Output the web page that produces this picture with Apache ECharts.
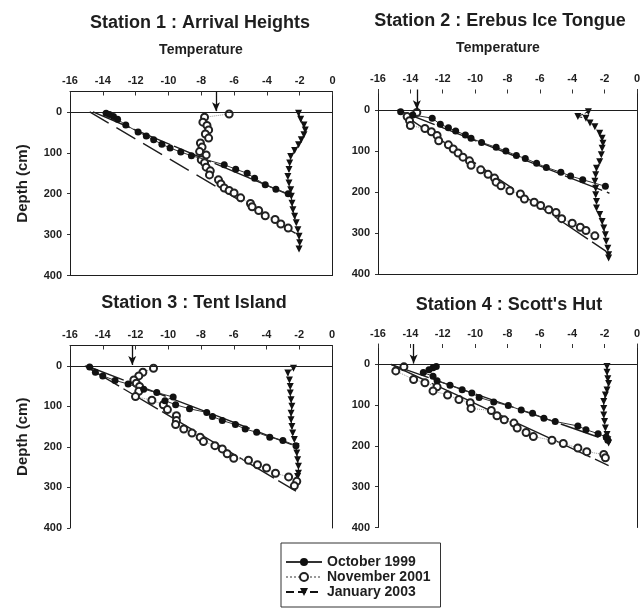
<!DOCTYPE html>
<html><head><meta charset="utf-8">
<script src="https://cdn.jsdelivr.net/npm/echarts@6/dist/echarts.min.js"></script>
<style>html,body{margin:0;padding:0;background:#fff}#c{width:643px;height:611px}</style>
</head><body><div id="c"></div>
<script>
// ---------- data (temperature °C, depth cm) ----------
const stationTitles = ['Station 1 : Arrival Heights', 'Station 2 : Erebus Ice Tongue', 'Station 3 : Tent Island', "Station 4 : Scott's Hut"];
const seriesNames = ['October 1999', 'November 2001', 'January 2003'];
const depthTicks = [0, 100, 200, 300, 400];

// Station 1
const oct1T = [-13.8,-13.6,-13.35,-13.1,-12.6,-11.85,-11.35,-10.9,-10.4,-9.9,-9.25,-8.6,-6.6,-5.9,-5.2,-4.75,-4.1,-3.45,-2.7];
const oct1D = [3,6,11,18,32,49,59,68,79,88,98,107,129,140,150,162,178,189,200];
const nov1T = [-6.3,-7.8,-7.9,-7.65,-7.55,-7.75,-7.55,-8.05,-7.95,-8.1,-7.7,-8.0,-7.8,-7.7,-7.45,-7.5,-6.95,-6.8,-6.6,-6.3,-6.0,-5.6,-5.0,-4.9,-4.5,-4.1,-3.5,-3.15,-2.7];
const nov1D = [5,13,25,33,44,54,64,76,86,97,105,117,124,135,144,154,166,176,186,192,198,210,224,232,241,254,263,274,284];
const jan1T = [-2.07,-1.94,-1.74,-1.66,-1.74,-1.9,-2.07,-2.31,-2.55,-2.61,-2.65,-2.72,-2.65,-2.55,-2.51,-2.47,-2.41,-2.31,-2.21,-2.11,-2.04,-2.0,-2.04];
const jan1D = [3,18,32,44,56,68,80,94,109,125,141,158,174,190,206,223,239,255,271,288,304,320,335];
const fitOct1T = [-14.6,-2.5], fitOct1D = [0,205];
const fitNov1T = [-14.8,-2.2], fitNov1D = [0,298];
const airTemp1 = -7.1;

// Station 2
const oct2T = [-14.6,-13.85,-12.65,-12.15,-11.65,-11.2,-10.6,-10.25,-9.6,-8.7,-8.1,-7.45,-6.9,-6.2,-5.6,-4.7,-4.1,-3.35,-1.95];
const oct2D = [4,12,20,35,43,51,61,69,79,91,100,111,118,130,140,152,161,170,186];
const nov2T = [-13.6,-14.2,-14.05,-14.0,-13.1,-12.7,-12.35,-12.25,-11.65,-11.35,-11.05,-10.75,-10.35,-10.25,-9.65,-9.2,-8.8,-8.7,-8.4,-7.85,-7.2,-6.95,-6.35,-5.95,-5.45,-5.0,-4.65,-4.0,-3.5,-3.15,-2.6];
const nov2D = [6,16,26,38,45,53,62,75,85,95,105,115,124,135,146,157,166,176,185,197,205,217,225,233,243,250,265,276,286,294,307];
const jan2T = [-3.0,-3.65,-3.15,-2.9,-2.6,-2.3,-2.15,-2.1,-2.15,-2.2,-2.3,-2.5,-2.55,-2.6,-2.55,-2.55,-2.5,-2.5,-2.3,-2.15,-2.05,-1.95,-1.9,-1.8,-1.75,-1.75];
const jan2D = [4,16,20,32,41,57,69,81,93,109,126,142,158,174,191,207,223,239,255,272,288,304,320,337,353,361];
const fitOct2T = [-14.8,-1.7], fitOct2D = [0,203];
const fitNov2T = [-14.3,-1.9], fitNov2D = [15,345];
const airTemp2 = -13.6;

// Station 3
const oct3T = [-14.8,-14.45,-14.0,-13.25,-12.45,-11.5,-10.7,-9.7,-10.2,-9.55,-8.7,-7.65,-7.3,-6.7,-5.9,-5.3,-4.6,-3.8,-3.0,-2.2];
const oct3D = [3,16,25,36,45,58,66,77,86,96,106,115,125,135,145,156,164,176,184,197];
const nov3T = [-10.9,-11.55,-11.8,-12.1,-11.95,-11.75,-11.8,-12.0,-11.0,-10.3,-10.05,-9.5,-9.5,-9.55,-9.05,-8.55,-8.05,-7.85,-7.15,-6.7,-6.4,-6.0,-5.1,-4.55,-4.0,-3.45,-2.65,-2.15,-2.3];
const nov3D = [6,16,25,35,43,51,63,76,85,96,108,123,135,145,156,166,176,187,197,205,217,228,233,244,252,265,274,285,296];
const jan3T = [-2.35,-2.7,-2.6,-2.55,-2.55,-2.5,-2.45,-2.5,-2.5,-2.45,-2.4,-2.3,-2.2,-2.15,-2.1,-2.05,-2.05,-2.1];
const jan3D = [6,18,35,51,67,84,100,117,133,150,166,182,199,215,232,248,265,273];
const fitOct3T = [-15.0,-2.1], fitOct3D = [0,200];
const fitNov3T = [-15.1,-2.2], fitNov3D = [0,309];
const airTemp3 = -12.2;

// Station 4
const oct4T = [-12.4,-12.6,-12.85,-13.2,-12.6,-12.35,-11.55,-10.8,-10.2,-9.75,-8.85,-7.95,-7.15,-6.45,-5.75,-5.05,-3.65,-3.15,-2.4,-1.9,-1.8];
const oct4D = [5,8,13,20,29,40,51,62,70,81,92,101,112,120,132,140,151,160,170,178,186];
const nov4T = [-14.4,-14.9,-13.8,-13.1,-12.35,-12.6,-11.7,-11.0,-10.3,-10.25,-9.0,-8.65,-8.2,-7.6,-7.4,-6.85,-6.4,-5.25,-4.55,-3.65,-3.1,-2.05,-1.95];
const nov4D = [6,16,37,45,55,65,75,86,94,108,113,126,136,144,156,167,177,186,194,205,214,221,229];
const jan4T = [-1.85,-1.85,-1.8,-1.75,-1.85,-1.95,-2.05,-2.05,-2.05,-2.0,-1.95,-1.85,-1.8,-1.75];
const jan4D = [5,19,35,47,63,75,91,108,124,140,156,172,185,193];
const fitOct4T = [-15.2,-1.85], fitOct4D = [0,186];
const fitNov4T = [-15.2,-1.75], fitNov4D = [0,248];
const airTemp4 = -13.8;

// ---------- build ----------
const zip = (a, b) => a.map((v, i) => [v, b[i]]);
const panels = [
  {oct:zip(oct1T,oct1D), nov:zip(nov1T,nov1D), jan:zip(jan1T,jan1D), fo:zip(fitOct1T,fitOct1D), fn:zip(fitNov1T,fitNov1D), air:airTemp1},
  {oct:zip(oct2T,oct2D), nov:zip(nov2T,nov2D), jan:zip(jan2T,jan2D), fo:zip(fitOct2T,fitOct2D), fn:zip(fitNov2T,fitNov2D), air:airTemp2},
  {oct:zip(oct3T,oct3D), nov:zip(nov3T,nov3D), jan:zip(jan3T,jan3D), fo:zip(fitOct3T,fitOct3D), fn:zip(fitNov3T,fitNov3D), air:airTemp3},
  {oct:zip(oct4T,oct4D), nov:zip(nov4T,nov4D), jan:zip(jan4T,jan4D), fo:zip(fitOct4T,fitOct4D), fn:zip(fitNov4T,fitNov4D), air:airTemp4}
];

const layout = [
  {left:70, top:91.5, width:262.5, height:184, topLine:true, bottomLine:true, depthName:true},
  {left:378, top:89.5, width:263, height:184.5, topLine:false, bottomLine:true, depthName:false},
  {left:70, top:345.5, width:262, height:182.5, topLine:true, bottomLine:false, depthName:true},
  {left:378, top:344, width:263.5, height:183.5, topLine:false, bottomLine:false, depthName:false}
];
const fitDash = [[40,4],[22,9]];
const fitDashOther = [[40,5],[40,5]];

const INK = '#1e1e1e';
const FONT = "'Liberation Sans', Arial, sans-serif";

const grid = [], xAxis = [], yAxis = [], series = [];
layout.forEach((L, i) => {
  grid.push({left:L.left, top:L.top, width:L.width, height:L.height, containLabel:false});
  xAxis.push({
    gridIndex:i, type:'value', position:'top', min:-16, max:0, interval:2,
    axisLine:{show:L.topLine, onZero:false, lineStyle:{color:INK, width:1}},
    axisTick:{show:true, inside:true, length:4, lineStyle:{color:'#333'}},
    axisLabel:{fontSize:11, fontWeight:'bold', color:INK, margin:5, fontFamily:FONT},
    splitLine:{show:false}
  });
  yAxis.push({
    gridIndex:i, type:'value', inverse:true, min:-50, max:400, position:'left',
    axisLine:{show:true, onZero:false, lineStyle:{color:INK, width:1}},
    axisTick:{show:true, length:3, customValues:depthTicks, lineStyle:{color:'#333'}},
    axisLabel:{customValues:depthTicks, fontSize:11, fontWeight:'bold', color:INK, margin:8, fontFamily:FONT},
    splitLine:{show:false},
    name: L.depthName ? 'Depth (cm)' : '', nameLocation:'middle', nameRotate:90, nameGap:40,
    nameTextStyle:{fontSize:15, fontWeight:'bold', color:INK, fontFamily:FONT}
  });
});
// frame: right edges and bottom edges
layout.forEach((L, i) => {
  yAxis.push({gridIndex:i, type:'value', inverse:true, min:-50, max:400, position:'right',
    axisLine:{show:true, onZero:false, lineStyle:{color:INK, width:1}},
    axisTick:{show:false}, axisLabel:{show:false}, splitLine:{show:false}});
  if (L.bottomLine) {
    xAxis.push({gridIndex:i, type:'value', position:'bottom', min:-16, max:0,
      axisLine:{show:true, onZero:false, lineStyle:{color:INK, width:1}},
      axisTick:{show:false}, axisLabel:{show:false}, splitLine:{show:false}});
  }
});

panels.forEach((P, i) => {
  const dash = i === 0 ? fitDash : fitDashOther;
  series.push({type:'line', xAxisIndex:i, yAxisIndex:i, data:P.fo, symbol:'none', silent:true, z:2,
    lineStyle:{color:INK, width:1.4, type:dash[0]}});
  series.push({type:'line', xAxisIndex:i, yAxisIndex:i, data:P.fn, symbol:'none', silent:true, z:2,
    lineStyle:{color:INK, width:1.4, type:dash[1]}});
  series.push({name:seriesNames[2], type:'line', xAxisIndex:i, yAxisIndex:i, data:P.jan,
    symbol:'triangle', symbolRotate:180, symbolSize:7, showAllSymbol:true, z:3,
    itemStyle:{color:'#111'}, lineStyle:{color:'#111', width:1, type:'dashed'},
    markLine:{silent:true, symbol:['none','arrow'], symbolSize:[6,9], label:{show:false},
      lineStyle:{color:'#111', width:1.3, type:'solid'},
      data:[[{coord:[P.air,-50]},{coord:[P.air,-2]}]]}});
  series.push({name:seriesNames[1], type:'line', xAxisIndex:i, yAxisIndex:i, data:P.nov,
    symbol:'emptyCircle', symbolSize:7, showAllSymbol:true, z:4,
    itemStyle:{color:'#222', borderWidth:1}, lineStyle:{color:'#999', width:1, type:'dotted'}});
  series.push({name:seriesNames[0], type:'line', xAxisIndex:i, yAxisIndex:i, data:P.oct,
    symbol:'circle', symbolSize:7, showAllSymbol:true, z:5,
    itemStyle:{color:'#111'}, lineStyle:{color:'#333', width:1},
    markLine:{silent:true, symbol:'none', label:{show:false},
      lineStyle:{color:INK, width:1, type:'solid'}, data:[{yAxis:0}]}});
});

const titleStyle = {fontSize:18, fontWeight:'bold', color:INK, fontFamily:FONT};
const subStyle = {fontSize:14, fontWeight:'bold', color:INK, fontFamily:FONT};
const title = [
  {text:stationTitles[0], left:200, top:23, textAlign:'center', textVerticalAlign:'middle', padding:0, textStyle:titleStyle},
  {text:'Temperature', left:201, top:50, textAlign:'center', textVerticalAlign:'middle', padding:0, textStyle:subStyle},
  {text:stationTitles[1], left:500, top:21.5, textAlign:'center', textVerticalAlign:'middle', padding:0, textStyle:titleStyle},
  {text:'Temperature', left:498, top:48, textAlign:'center', textVerticalAlign:'middle', padding:0, textStyle:subStyle},
  {text:stationTitles[2], left:194, top:303.5, textAlign:'center', textVerticalAlign:'middle', padding:0, textStyle:titleStyle},
  {text:stationTitles[3], left:509, top:305.5, textAlign:'center', textVerticalAlign:'middle', padding:0, textStyle:titleStyle}
];

const chart = echarts.init(document.getElementById('c'), null, {renderer:'canvas'});
chart.setOption({
  animation:false,
  backgroundColor:'#fff',
  textStyle:{fontFamily:FONT},
  title: title,
  legend:{data:seriesNames, orient:'vertical', left:281, top:543, padding:[12,10,8,4],
    borderColor:'#333', borderWidth:1, itemWidth:36, itemHeight:10, itemGap:1,
    textStyle:{fontSize:14, fontWeight:'bold', color:INK, lineHeight:13, fontFamily:FONT}},
  grid: grid, xAxis: xAxis, yAxis: yAxis, series: series
});
</script></body></html>
